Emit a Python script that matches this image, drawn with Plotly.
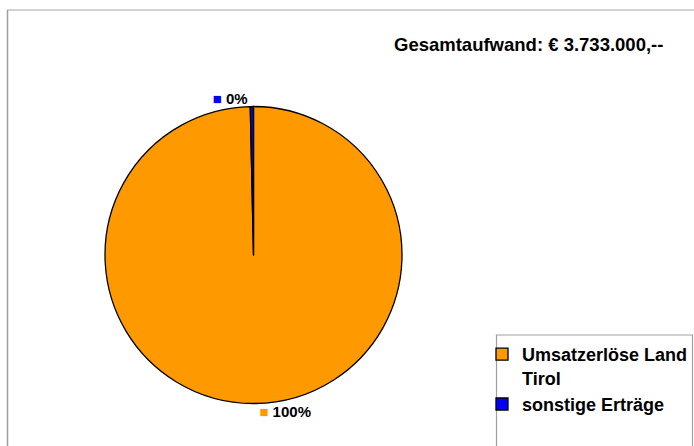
import plotly.graph_objects as go

# Data
categories = ["Umsatzerlöse Land<br>Tirol", "sonstige Erträge"]
values = [3720000, 13000]
colors = ["#FF9900", "#0000FF"]
title_text = "Gesamtaufwand: € 3.733.000,--"

W, H = 694, 446
FONT = "Liberation Sans, Arial, sans-serif"

def px(x):
    return x / W

def py(y):
    return 1 - y / H

texttemplate = [
    "<span style='color:%s'>■</span> <b>%%{percent:.0%%}</b>" % c for c in colors
]

fig = go.Figure()
fig.add_trace(go.Pie(
    labels=categories,
    values=values,
    sort=False,
    direction="clockwise",
    rotation=0,
    marker=dict(colors=colors, line=dict(color="black", width=1.3)),
    textposition="outside",
    texttemplate=texttemplate,
    textfont=dict(family=FONT, size=15, color="black"),
    domain=dict(x=[px(105), px(402)], y=[py(404), py(106)]),
    hoverinfo="label+percent",
))

fig.update_layout(
    width=W, height=H,
    margin=dict(l=0, r=0, t=0, b=0),
    paper_bgcolor="white",
    plot_bgcolor="white",
    font=dict(family=FONT, color="black"),
    showlegend=True,
    legend=dict(
        x=px(482), y=py(336), xanchor="left", yanchor="top",
        font=dict(family=FONT, size=18, color="black", weight="bold"),
        bgcolor="rgba(0,0,0,0)",
        borderwidth=0,
        valign="top",
        traceorder="normal",
    ),
    annotations=[dict(
        text="<b>" + title_text + "</b>",
        x=px(392), y=py(45), xref="paper", yref="paper",
        xanchor="left", yanchor="middle", showarrow=False,
        font=dict(family=FONT, size=18.5, color="black"),
    )],
    shapes=[
        # outer chart frame (top and left edges visible)
        dict(type="line", xref="paper", yref="paper",
             x0=px(7), y0=py(10), x1=1, y1=py(10),
             line=dict(color="#d2d2d2", width=2), layer="below"),
        dict(type="line", xref="paper", yref="paper",
             x0=px(7.5), y0=py(10), x1=px(7.5), y1=0,
             line=dict(color="#a0a0a0", width=1.5), layer="below"),
        # legend box
        dict(type="rect", xref="paper", yref="paper",
             x0=px(496.5), y0=py(460), x1=px(692.5), y1=py(335),
             line=dict(color="#a0a0a0", width=1.2), layer="below"),
    ],
)

fig.write_html("out.html", config={"displayModeBar": False},
               post_script="document.body.style.margin='0';")
